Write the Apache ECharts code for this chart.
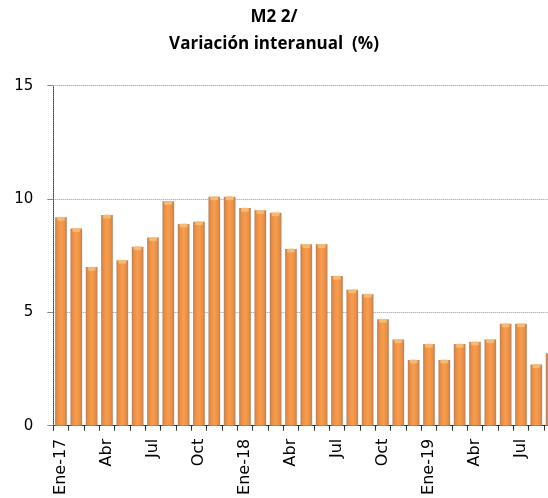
<!DOCTYPE html>
<html>
<head>
<meta charset="utf-8">
<script src="https://cdn.jsdelivr.net/npm/echarts@6/dist/echarts.min.js"></script>
<style>html,body{margin:0;padding:0;background:#fff;}#c{width:548px;height:498px;}</style>
</head>
<body>
<div id="c"></div>
<script>
const titleLines = ["M2 2/", "Variación interanual  (%)"];
const categories = ["Ene-17","Feb","Mar","Abr","May","Jun","Jul","Ago","Sep","Oct","Nov","Dic",
  "Ene-18","Feb","Mar","Abr","May","Jun","Jul","Ago","Sep","Oct","Nov","Dic",
  "Ene-19","Feb","Mar","Abr","May","Jun","Jul","Ago","Sep"];
const values = [9.2, 8.7, 7.0, 9.3, 7.3, 7.9, 8.3, 9.9, 8.9, 9.0, 10.1, 10.1,
  9.6, 9.5, 9.4, 7.8, 8.0, 8.0, 6.6, 6.0, 5.8, 4.7, 3.8, 2.9,
  3.6, 2.9, 3.6, 3.7, 3.8, 4.5, 4.5, 2.7, 3.2];
const yTicks = [0, 5, 10, 15];

const chart = echarts.init(document.getElementById('c'), null, {renderer: 'canvas'});
const barGrad = new echarts.graphic.LinearGradient(0, 0, 1, 0, [
  {offset: 0, color: '#b08060'},
  {offset: 0.18, color: '#e98e44'},
  {offset: 0.5, color: '#f99d4c'},
  {offset: 0.82, color: '#e98e44'},
  {offset: 1, color: '#b08060'}
]);
chart.setOption({
  animation: false,
  title: {
    text: titleLines.join('\n'),
    left: 'center',
    top: -1,
    textStyle: {fontFamily: 'Open Sans', fontWeight: 'bold', fontSize: 17, lineHeight: 26.5, color: '#000'}
  },
  grid: {left: 53.3, top: 85.7, height: 340, width: 506, containLabel: false, outerBoundsMode: 'none'},
  xAxis: {
    type: 'category',
    data: categories,
    boundaryGap: true,
    axisLine: {show: true, lineStyle: {color: '#333', width: 1}},
    axisTick: {show: true, interval: 0, length: 5, lineStyle: {color: '#333'}},
    axisLabel: {interval: 2, rotate: 90, margin: 13, fontFamily: 'DejaVu Sans', fontSize: 16, color: '#000'},
    splitLine: {show: false}
  },
  yAxis: {
    type: 'value',
    min: yTicks[0], max: yTicks[yTicks.length - 1], interval: 5,
    axisLine: {show: true, lineStyle: {color: '#444', type: 'dotted', width: 1}},
    axisTick: {show: true, length: 6, lineStyle: {color: '#888'}},
    axisLabel: {margin: 20, fontFamily: 'DejaVu Sans', fontSize: 15, color: '#000'},
    splitLine: {show: true, lineStyle: {color: '#999', type: 'dotted', width: 1}}
  },
  series: [
    {
      type: 'bar',
      data: values,
      barCategoryGap: '24%',
      itemStyle: {color: barGrad},
      z: 2
    },
    {
      type: 'pictorialBar',
      data: values,
      symbol: 'roundRect',
      symbolSize: ['74%', 4],
      symbolPosition: 'end',
      symbolOffset: [0, '-10%'],
      itemStyle: {color: '#f4bf7a', opacity: 0.85},
      z: 3
    }
  ]
});
</script>
</body>
</html>
